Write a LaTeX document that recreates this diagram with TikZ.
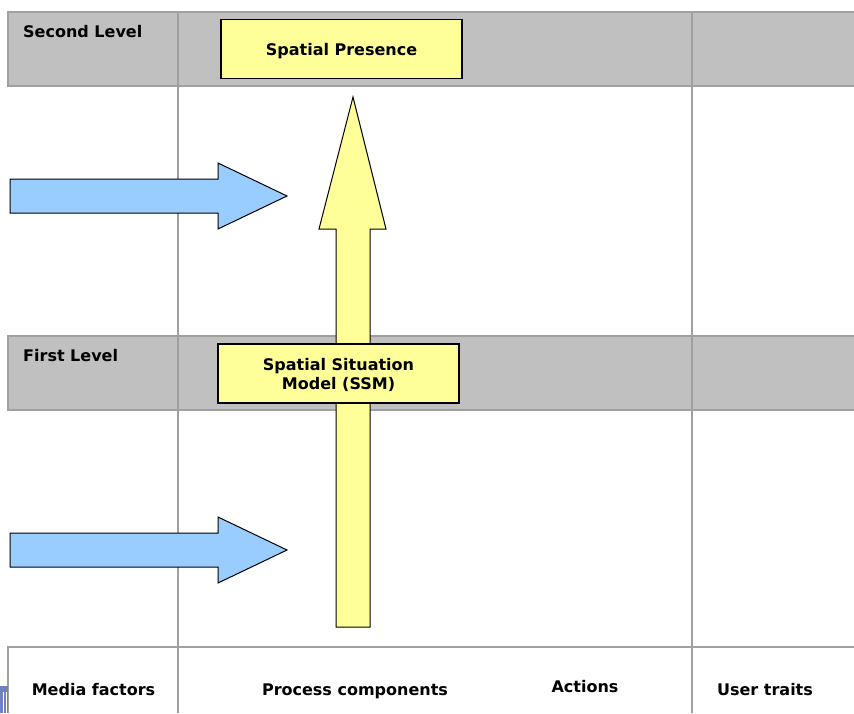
\documentclass[tikz,border=0pt]{standalone}
\usepackage{fontspec}
\setmainfont{DejaVu Sans}
\usepackage{xcolor}
\usetikzlibrary{positioning}
\definecolor{bandgray}{HTML}{C0C0C0}
\definecolor{linegray}{HTML}{A0A0A0}
\definecolor{boxyellow}{HTML}{FFFF99}
\definecolor{arrowblue}{HTML}{99CCFF}
\definecolor{tabblue}{HTML}{7080C0}
\tikzset{lvl/.style={font=\bfseries\fontsize{16}{19}\selectfont,inner sep=0pt},
    lbl/.style={font=\bfseries\fontsize{16}{19}\selectfont,inner sep=0pt,anchor=base},
    box/.style={draw,fill=boxyellow,line width=1.2pt,align=center,inner sep=0pt,text depth=0pt,
        minimum width=241pt,minimum height=59pt,font=\bfseries\fontsize{16}{19}\selectfont},
    grid/.style={draw=linegray,line width=1.5pt},
    blk/.style={draw=black,line width=1pt,line join=miter}}

\begin{document}
\begin{tikzpicture}[x=1pt,y=-1pt]
    \useasboundingbox (0,0) rectangle (854,713);

    % level bands
    \fill[bandgray] (8,12) rectangle (854,86);
    \fill[bandgray] (8,336) rectangle (854,410);
    \draw[grid] (854,12) -- (8,12) -- (8,86) -- (854,86);
    \draw[grid] (854,336) -- (8,336) -- (8,410) -- (854,410);
    \draw[grid] (854,647) -- (8,647) -- (8,713);
    \draw[grid] (178,12) -- (178,713);
    \draw[grid] (692,12) -- (692,713);
    \fill[tabblue] (0,686) rectangle (8,713);
    \draw[white,line width=0.8pt] (3,692) -- (3,713) (6,692) -- (6,713);

    % upward arrow
    \draw[blk,fill=boxyellow] (336,627) -- (336,229) -- (319,229) -- (353,97)
        -- (386,229) -- (370,229) -- (370,627) -- cycle;

    % sideways arrows
    \foreach \y in {196,550}
        \draw[blk,fill=arrowblue] (10,\y-17) -- (218,\y-17) -- (218,\y-33) -- (287,\y)
            -- (218,\y+33) -- (218,\y+17) -- (10,\y+17) -- cycle;

    \node[box] (sp) at (341.5,49) {Spatial Presence};
    \node[box] (ssm) at (338.5,373.5) {Spatial Situation\\Model (SSM)};

    \node[lvl,anchor=base west] (second) at (23,37.5) {Second Level};
    \node[lvl,anchor=base west] (first) at (23,361.5) {First Level};

    \node[lbl] (media) at (93.5,695.5) {Media factors};
    \node[lbl] (proc) at (355,695.5) {Process components};
    \node[lbl] (act) at (585,692.5) {Actions};
    \node[lbl] (user) at (765,695.5) {User traits};
\end{tikzpicture}
\end{document}
